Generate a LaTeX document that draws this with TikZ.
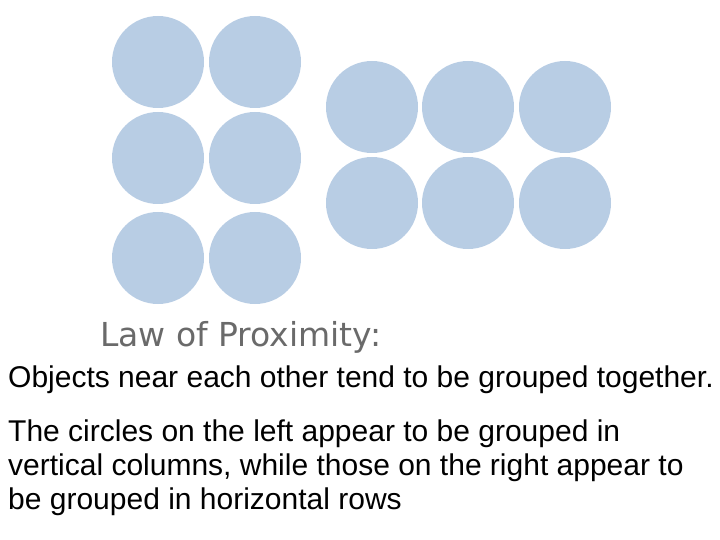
\documentclass[tikz,border=0pt]{standalone}
\usepackage{fontspec}
\setmainfont{Liberation Sans}
\newfontfamily\lawfont{DejaVu Sans}
\definecolor{cblue}{HTML}{B8CDE4}
\definecolor{lawgray}{HTML}{6A6A6A}
\begin{document}
\begin{tikzpicture}[x=1pt,y=-1pt,
  dot/.style={circle,fill=cblue,minimum size=92pt,inner sep=0pt},
  txt/.style={anchor=base west,inner sep=0pt,font=\fontsize{30pt}{34pt}\selectfont}]
\useasboundingbox (0,0) rectangle (720,540);
\foreach \x/\i in {158/1,255/2}
  \foreach \y/\j in {62/1,158/2,258/3}
    \node[dot] (l\i\j) at (\x,\y) {};
\foreach \x/\i in {372/1,468/2,565/3}
  \foreach \y/\j in {107/1,203/2}
    \node[dot] (r\i\j) at (\x,\y) {};
\node[anchor=base west,inner sep=0pt,text=lawgray,font=\lawfont\fontsize{33pt}{36pt}\selectfont] (law) at (100,346) {Law of Proximity:};
\node[txt] (t1) at (8,387) {Objects near each other tend to be grouped together.};
\node[txt] (t2) at (8,441) {The circles on the left appear to be grouped in};
\node[txt] (t3) at (8,475) {vertical columns, while those on the right appear to};
\node[txt] (t4) at (8,509) {be grouped in horizontal rows};
\end{tikzpicture}
\end{document}
